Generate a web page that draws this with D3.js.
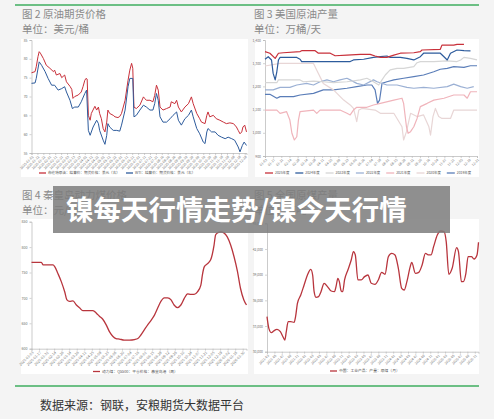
<!DOCTYPE html>
<html><head><meta charset="utf-8">
<script src="https://cdn.jsdelivr.net/npm/d3@7"></script>
<style>
body{margin:0;background:#f4f4f4;}
svg{display:block;}
text{font-family:"Noto Sans CJK SC","Noto Sans",sans-serif;}
</style>
</head><body>
<svg id="c" width="494" height="419"></svg>
<script>
// ---------- Fig 2: crude oil futures (day of year 2025, USD/bbl) ----------
const oilTickLabels = ["2025-01-02","2025-01-12","2025-01-22","2025-02-01","2025-02-11","2025-02-21","2025-03-03","2025-03-13","2025-03-23","2025-04-02","2025-04-12","2025-04-22","2025-05-02","2025-05-12","2025-05-22","2025-06-01","2025-06-11","2025-06-21","2025-07-01","2025-07-11","2025-07-21","2025-07-31","2025-08-10","2025-08-20","2025-08-30","2025-09-09","2025-09-19","2025-09-29","2025-10-09","2025-10-19","2025-10-29","2025-11-08","2025-11-18","2025-11-28","2025-12-08","2025-12-18","2025-12-28"];
const oilYTicks = [55,60,65,70,75,80,85];
const brent = [[1,76.3],[7,76.6],[9,77.9],[12,80.6],[14,81.9],[16,81.5],[21,80.1],[26,78.3],[32,77.5],[38,76.6],[40,77],[43,75.7],[49,76.1],[52,75],[57,75.7],[60,73.9],[66,72.7],[69,71.9],[71,69.5],[74,70],[80,70.4],[85,71.2],[88,72.6],[91,74.3],[93,74.8],[95,74.6],[97,65],[100,63.7],[102,65.5],[108,67.4],[111,66.4],[114,67.2],[116,65.5],[119,64.1],[122,61.5],[125,60.6],[128,63.2],[130,66.4],[133,65.5],[139,65],[142,64.6],[147,64.4],[150,64.7],[153,65.5],[159,69],[164,74.3],[167,77],[170,78.8],[172,77.5],[174,67.2],[178,66.8],[184,67.7],[190,69.9],[192,69.5],[195,69],[201,69],[206,68.6],[209,70.3],[212,73],[215,71.7],[218,67.2],[223,66.4],[229,66.8],[235,67.2],[237,68.6],[243,68.1],[246,69],[249,67.2],[254,65.9],[260,67.2],[266,68.1],[271,69.9],[274,68.1],[280,65.5],[285,64.1],[288,63.2],[294,62.8],[297,65],[299,65.9],[302,64.6],[308,65],[313,64.1],[319,63.7],[325,63.2],[330,62.8],[336,63],[342,62.8],[347,61.9],[350,61],[353,60.1],[356,60.6],[358,61.9],[361,62.4],[364,60.6]];
const wti = [[1,73.5],[7,73.6],[9,74.8],[14,79.2],[18,78.3],[24,76.6],[29,74.8],[35,73],[40,73],[46,71.7],[52,72.1],[57,72.6],[60,71.2],[66,69],[70,66.8],[74,67.2],[80,67.2],[85,68.6],[91,70.8],[94,71.7],[97,61],[100,59.7],[105,61.9],[111,63.7],[114,62.8],[116,61],[122,58.4],[125,57.3],[128,59.7],[130,62.8],[133,61.9],[139,61],[145,61],[150,60.8],[153,62.4],[159,66.4],[164,72.6],[167,74.8],[172,74.8],[174,64.6],[178,65],[184,66.4],[190,67.7],[195,67.2],[201,66.4],[206,66.4],[209,68.1],[212,70.8],[215,69],[218,64.6],[223,63.2],[229,63.2],[235,64.1],[240,65],[246,65.9],[249,63.7],[254,62.4],[260,64.1],[266,65],[271,66.4],[274,64.6],[280,61.5],[285,60.1],[291,57.9],[294,57.5],[297,60.6],[299,61.5],[305,60.6],[311,60.6],[316,59.7],[322,59.2],[328,58.8],[333,59.2],[339,58.8],[344,58.4],[350,56.6],[353,55.3],[357,57],[360,57.9],[364,57]];
const oilSeries = ["布伦特原油：结算价：期货价格：美元（右）","WTI：结算价：期货价格：美元（右）"];

// ---------- Fig 3: US crude production (week index, 10k bbl/day) ----------
const usTickLabels = ["01-03","01-17","01-31","02-14","02-28","03-14","03-28","04-11","04-25","05-09","05-23","06-06","06-20","07-04","07-18","08-01","08-15","08-29","09-12","09-26","10-10","10-24","11-07","11-21","12-05","12-19","12-31"];
const usYTicks = [900,1000,1100,1200,1300,1400];
const usYears = ["2025年度","2024年度","2023年度","2022年度","2021年度","2020年度","2019年度"];
const us2025 = [[0,1350],[1.2,1343],[2.5,1321],[3.3,1343],[4.5,1345],[8.6,1350],[9,1354],[12.3,1354],[13.1,1343],[16,1343],[17.2,1332],[20.1,1335],[23.4,1338],[25.8,1338],[27,1331],[28.3,1325],[29.9,1325],[31.6,1335],[33.2,1343],[36.5,1345],[38.1,1350],[38.5,1357],[43,1360],[43.4,1378],[46.3,1378],[47.1,1381],[48.8,1381]];
const us2024 = [[0,1317],[0.8,1328],[1.6,1314],[2,1256],[2.5,1228],[2.9,1263],[3.3,1314],[3.7,1325],[7.8,1325],[8.6,1317],[9,1307],[20.9,1307],[21.7,1314],[24.2,1317],[26.6,1325],[28.3,1328],[29.9,1331],[30.7,1325],[33.2,1325],[34.8,1321],[36.5,1314],[38.1,1328],[38.9,1343],[43,1343],[43.9,1328],[44.7,1314],[45.5,1343],[47.1,1357],[48.8,1354],[50.4,1353]];
const us2023 = [[0,1216],[2.9,1216],[3.3,1228],[8.6,1228],[9.4,1220],[11.9,1223],[14.3,1220],[16.8,1216],[20.1,1220],[23.4,1228],[25,1235],[26.6,1220],[27.9,1206],[28.7,1228],[29.5,1249],[30.7,1271],[32.4,1278],[34,1278],[36.5,1285],[37.3,1302],[38.1,1307],[41.4,1307],[44.7,1310],[47.1,1307],[48,1314],[48.8,1325],[50.4,1321],[52,1314]];
const us2022 = [[0,1185],[2,1185],[3.7,1196],[6.1,1196],[7.8,1206],[10.2,1213],[11.9,1206],[13.5,1220],[15.2,1228],[16.8,1220],[18.4,1228],[20.1,1235],[20.9,1228],[22.5,1213],[24.2,1206],[26.6,1228],[27.5,1220],[29.9,1206],[32.4,1206],[34.8,1196],[36.5,1192],[38.9,1196],[41.4,1192],[44.7,1199],[46.3,1210],[48,1199],[49.6,1192],[51.2,1199]];
const us2021 = [[0,1098],[2.9,1098],[3.7,1084],[5.3,1091],[6.1,1055],[6.6,998],[7.2,969],[7.8,983],[8.2,1055],[8.6,1091],[11.9,1098],[12.7,1084],[13.5,1098],[18.4,1098],[20.1,1084],[20.9,1077],[21.7,1098],[22.5,1110],[25,1110],[26.6,1120],[28.3,1127],[31.6,1141],[33.6,1149],[34,1127],[34.7,1026],[35.1,998],[35.7,1005],[36.5,1026],[37.3,1062],[38.1,1113],[39.8,1127],[41.4,1141],[43.9,1149],[46.3,1163],[48.8,1163],[49.6,1149],[50.4,1177],[52,1177]];
const us2020 = [[0,1288],[3.7,1299],[11.9,1299],[12.7,1270],[14.3,1213],[16.8,1185],[19.3,1141],[20.9,1120],[21.7,1105],[22.1,1077],[22.5,1048],[23,1098],[23.8,1105],[27,1098],[28.3,1084],[31.6,1084],[33.6,1026],[34,969],[34.7,1005],[35.7,1084],[37.3,1070],[38.9,1077],[40.2,1026],[40.6,990],[41.2,1070],[41.8,1105],[42.6,1070],[43.4,1062],[45.5,1062],[46.3,1098],[52,1098]];
const us2019 = [[0,1166],[1.2,1166],[2.9,1149],[3.7,1156],[7,1156],[8.6,1163],[11.9,1170],[14.3,1185],[16.8,1185],[20.1,1192],[22.5,1199],[25,1206],[26.2,1206],[27,1185],[27.6,1127],[28.1,1141],[28.7,1213],[29.9,1220],[31.6,1228],[34,1235],[36.5,1242],[38.9,1249],[41.4,1263],[43,1274],[44.7,1278],[46.3,1285],[48.8,1282],[50.4,1289],[52,1289]];

// ---------- Fig 4: Qinhuangdao thermal coal price (week index, CNY/t) ----------
const coalTickLabels = ["2025-01-03","2025-01-17","2025-01-31","2025-02-14","2025-02-28","2025-03-14","2025-03-28","2025-04-11","2025-04-25","2025-05-09","2025-05-23","2025-06-06","2025-06-20","2025-07-04","2025-07-18","2025-08-01","2025-08-15","2025-08-29","2025-09-12","2025-09-26","2025-10-10","2025-10-24","2025-11-07","2025-11-21","2025-12-05","2025-12-19","2026-01-02","2026-01-16","2026-01-30"];
const coalYTicks = [600,650,700,750,800,850];
const coalPrice = [[0,770],[2.6,770],[3.1,765],[5.7,765],[6.2,761],[7,748],[7.9,732],[8.8,712],[9.4,696],[10.1,693],[11,694],[11.9,686],[12.8,680],[13.6,675],[16.3,675],[17.2,670],[18,664],[18.9,658],[19.8,647],[20.7,633],[21.6,624],[22.4,620],[23.3,619],[24.6,617],[26,617],[27.3,618],[28.2,620],[29,627],[29.9,637],[30.8,647],[31.7,656],[32.6,666],[33.4,679],[34.3,693],[35.2,700],[36.1,700],[37,696],[37.8,686],[38.7,681],[39.6,686],[40.5,699],[41.4,708],[42.2,707],[43.1,707],[44,712],[44.9,725],[45.3,745],[45.8,761],[46.6,767],[47.5,775],[48.4,804],[48.8,824],[49.3,828],[50.2,830],[51,828],[51.9,820],[52.8,804],[53.7,781],[54.6,752],[55.4,719],[56.3,696],[57,686]];
const coalSeries = "动力煤：Q5500：平仓价格：秦皇岛港（周）";

// ---------- Fig 5: China raw coal output (month index, 10k t) ----------
const rawTickLabels = ["2021-03","2021-05","2021-07","2021-09","2021-11","2022-01","2022-03","2022-05","2022-07","2022-09","2022-11","2023-01","2023-03","2023-05","2023-07","2023-09","2023-11","2024-01","2024-03","2024-05","2024-07","2024-09","2024-11","2025-01","2025-03","2025-05","2025-07","2025-09","2025-11"];
const rawYTicks = [30000,33000,36000,39000,42000,45000];
const rawCoal = [[0,34090],[0.5,32730],[1.2,32220],[1.8,32420],[2.7,32610],[3.6,32340],[4.3,31750],[4.8,31360],[5.2,32340],[5.7,33510],[6.4,33510],[7.3,33430],[7.7,34090],[8.2,35650],[9.1,36620],[10,37790],[10.9,38960],[11.8,39620],[12.3,38960],[12.7,37010],[13.2,36350],[13.9,36430],[14.5,36940],[15.4,37990],[16.3,37600],[17.3,37090],[18.2,37010],[18.6,37600],[19.1,38570],[19.5,38180],[20,37090],[20.4,37010],[20.9,38380],[21.8,39550],[22.7,40710],[23.3,41690],[23.8,41300],[24.5,38380],[25.4,38380],[26.3,38770],[27.2,38960],[28.1,37990],[29.1,37870],[30,38380],[30.9,39270],[31.8,39040],[32.7,41100],[33.6,41490],[34.5,41300],[35.4,39740],[36.3,37400],[37,37210],[37.7,38180],[38.6,39940],[39,40440],[40,39160],[40.9,39270],[41.8,40130],[42.7,41490],[43.6,41300],[44.2,41300],[44.9,42270],[45.9,43640],[46.8,44100],[47.7,44030],[48.3,42860],[49,39040],[49.9,39740],[51.1,42160],[51.6,41690],[52.4,38180],[52.9,38180],[53.6,39160],[54.2,41100],[55.1,41100],[55.8,40830],[56.6,41300],[57,42780]];
const rawSeries = "中国：工业产品：产量：原煤（月）";

// ---------- drawing ----------
const svg = d3.select("#c");
svg.append("rect").attr("width",494).attr("height",419).attr("fill","#f4f4f4");

const green = "#3fae5f";
svg.append("line").attr("x1",15).attr("x2",479).attr("y1",5).attr("y2",5).attr("stroke",green).attr("stroke-width",1.6);
svg.append("line").attr("x1",15).attr("x2",479).attr("y1",386).attr("y2",386).attr("stroke",green).attr("stroke-width",1.6);

function title(x,y,t1,t2){
  svg.append("text").attr("x",x).attr("y",y).attr("font-size",10.5).attr("fill","#8a8a8a").text(t1);
  svg.append("text").attr("x",x).attr("y",y+15).attr("font-size",10.5).attr("fill","#8a8a8a").text(t2);
}
title(22,18,"图 2  原油期货价格","单位：美元/桶");
title(254,18,"图 3  美国原油产量","单位：万桶/天");
title(22,199,"图 4  秦皇岛动力煤价格","单位：元/吨");
title(254,199,"图 5  全国原煤产量","单位：万吨");

function panel(o){
  svg.append("rect").attr("x",o.box[0]).attr("y",o.box[1]).attr("width",o.box[2]-o.box[0]).attr("height",o.box[3]-o.box[1]).attr("fill","#fff");
  const x = d3.scaleLinear().domain(o.xDomain).range([o.plot[0],o.plot[2]]);
  const y = d3.scaleLinear().domain(o.yDomain).range([o.plot[3],o.plot[1]]);
  const g = svg.append("g");
  const ya = g.append("g").attr("transform",`translate(${o.plot[0]},0)`)
    .call(d3.axisLeft(y).tickValues(o.yTicks).tickSize(2).tickPadding(2).tickFormat(o.yFmt||(d=>d)));
  const xa = g.append("g").attr("transform",`translate(0,${o.plot[3]})`)
    .call(d3.axisBottom(x).tickValues(o.xTickPos).tickSize(2).tickPadding(1).tickFormat((d,i)=>o.xLabels[i]));
  [ya,xa].forEach(a=>{
    a.select(".domain").attr("stroke","#b5b5b5").attr("stroke-width",0.7);
    a.selectAll(".tick line").attr("stroke","#b5b5b5").attr("stroke-width",0.6);
    a.selectAll("text").attr("fill","#707070").attr("font-size",o.fs||3.6);
  });
  xa.selectAll("text").attr("text-anchor","end").attr("dy","0.35em").attr("dx","-0.2em")
    .attr("transform","rotate(-45) translate(-1,0)");
  o.series.forEach(s=>{
    const line = d3.line().x(d=>x(d[0])).y(d=>y(d[1])).curve(o.curve||d3.curveLinear);
    g.append("path").datum(s.data).attr("d",line).attr("fill","none")
      .attr("stroke",s.color).attr("stroke-width",s.w||1).attr("stroke-linejoin","round");
  });
  o.legend.forEach(l=>{
    svg.append("line").attr("x1",l.x).attr("x2",l.x+(l.len||7)).attr("y1",o.legendY).attr("y2",o.legendY)
      .attr("stroke",l.color).attr("stroke-width",1.3);
    svg.append("text").attr("x",l.x+(l.len||7)+2).attr("y",o.legendY).attr("dy","0.35em")
      .attr("font-size",o.lfs||3.8).attr("fill","#555").text(l.text);
  });
}

const oilStart = new Date(2025,0,1);
panel({
  box:[21,39,248,177], plot:[31.5,40,246.5,153],
  xDomain:[1,364], yDomain:[55,85], yTicks:oilYTicks,
  xTickPos: oilTickLabels.map(s=>d3.timeDay.count(oilStart,new Date(s+"T00:00"))),
  xLabels: oilTickLabels, fs:3.4,
  series:[{data:brent,color:"#c8303a",w:1},{data:wti,color:"#2d5b9c",w:1}],
  legendY:173, lfs:3.6,
  legend:[{x:39,color:"#c8303a",text:oilSeries[0]},{x:126,color:"#2d5b9c",text:oilSeries[1]}]
});

const usColors = ["#c8303a","#2d5b9c","#d6d6d6","#9bb0d4","#f0b4bb","#e8d6d6","#5a7db8"];
const usData = [us2025,us2024,us2023,us2022,us2021,us2020,us2019];
panel({
  box:[255,39,479,177], plot:[265,40,477,156],
  xDomain:[0,52], yDomain:[900,1400], yTicks:usYTicks, yFmt:d3.format(","),
  xTickPos: usTickLabels.map((d,i)=>Math.min(i*2,52)),
  xLabels: usTickLabels, fs:3.4,
  series: usData.map((d,i)=>({data:d,color:usColors[i],w:1.2})).reverse(),
  legendY:173, lfs:3.4,
  legend: usYears.map((t,i)=>({x:265+i*30.3,color:usColors[i],text:t,len:8}))
});

panel({
  box:[21,219,248,374], plot:[31.5,221.7,246.5,348.7],
  xDomain:[0,57], yDomain:[600,850], yTicks:coalYTicks,
  xTickPos: coalTickLabels.map((d,i)=>i*2),
  xLabels: coalTickLabels, fs:3.6, curve:d3.curveMonotoneX,
  series:[{data:coalPrice,color:"#b8353d",w:1.3}],
  legendY:371.5, lfs:3.8,
  legend:[{x:93,color:"#b8353d",text:coalSeries}]
});

panel({
  box:[254,219,479,374], plot:[267,223.3,478.5,351.7],
  xDomain:[0,57], yDomain:[30000,45000], yTicks:rawYTicks, yFmt:d3.format(","),
  xTickPos: rawTickLabels.map((d,i)=>i*2),
  xLabels: rawTickLabels, fs:3.4, curve:d3.curveMonotoneX,
  series:[{data:rawCoal,color:"#b8353d",w:1.3}],
  legendY:371, lfs:3.8,
  legend:[{x:330,color:"#b8353d",text:rawSeries}]
});

svg.append("text").attr("x",40).attr("y",410).attr("font-size",12).attr("fill","#333")
  .text("数据来源：钢联，安粮期货大数据平台");

// overlay banner
svg.append("rect").attr("x",53).attr("y",186).attr("width",397).attr("height",47)
  .attr("fill","#7c7c7c").attr("opacity",0.85);
svg.append("text").attr("x",66).attr("y",219.5).attr("font-size",27.5).attr("font-weight","bold")
  .attr("fill","#fff").text("镍每天行情走势/镍今天行情");
</script>
</body></html>
